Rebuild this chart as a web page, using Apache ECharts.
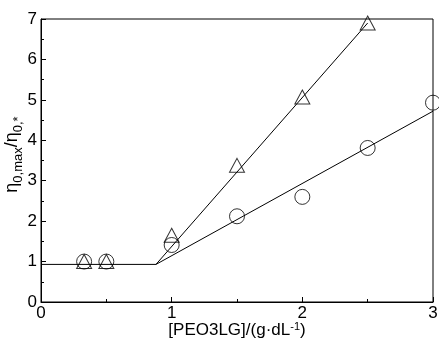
<!DOCTYPE html>
<html>
<head>
<meta charset="utf-8">
<script src="https://cdn.jsdelivr.net/npm/echarts@6/dist/echarts.min.js"></script>
<style>html,body{margin:0;padding:0;background:#fff}#c{width:439px;height:338px}</style>
</head>
<body>
<div id="c"></div>
<script>
// data
const triangleX = [0.33, 0.5, 1.0, 1.5, 2.0, 2.5];
const triangleY = [1.0, 1.0, 1.65, 3.38, 5.07, 6.9];
const circleX = [0.33, 0.5, 1.0, 1.5, 2.0, 2.5, 3.0];
const circleY = [1.0, 1.0, 1.41, 2.12, 2.6, 3.81, 4.93];
const flatLine = [[0, 0.93], [0.88, 0.93]];
const triangleFit = [[0.88, 0.93], [2.5, 6.9]];
const circleFit = [[0.88, 0.93], [3.0, 4.72]];
const xTicks = [0, 1, 2, 3];
const yTicks = [0, 1, 2, 3, 4, 5, 6, 7];

const FONT = "'Liberation Sans Narrow','Liberation Sans',Arial,sans-serif";
const zip = (xs, ys) => xs.map((x, i) => [x, ys[i]]);
const lineSeries = d => ({
  type: 'line', data: d, symbol: 'none', silent: true,
  lineStyle: { color: '#000', width: 1 }, z: 1
});

const chart = echarts.init(document.getElementById('c'), null, { renderer: 'canvas' });
chart.setOption({
  animation: false,
  backgroundColor: '#fff',
  grid: { left: 41, right: 6, top: 19, bottom: 36, show: true, borderColor: '#000', borderWidth: 1,
          containLabel: false, outerBoundsMode: 'none' },
  xAxis: {
    type: 'value', min: xTicks[0], max: xTicks[xTicks.length - 1], interval: 1,
    axisLine: { lineStyle: { color: '#000', width: 1 } },
    axisTick: { inside: true, length: 5, lineStyle: { color: '#000' } },
    minorTick: { show: true, splitNumber: 2, length: 3, lineStyle: { color: '#000' } },
    splitLine: { show: false },
    axisLabel: { color: '#000', fontSize: 17, fontFamily: FONT, margin: 3 },
    name: '{m|[PEO3LG]/(g·dL}{s|-1}{m|)}',
    nameLocation: 'middle', nameGap: 19, nameMoveOverlap: false,
    nameTextStyle: {
      rich: {
        m: { fontSize: 17, fontFamily: FONT, color: '#000', lineHeight: 18, verticalAlign: 'bottom' },
        s: { fontSize: 11, fontFamily: FONT, color: '#000', lineHeight: 18, verticalAlign: 'top' }
      }
    }
  },
  yAxis: {
    type: 'value', min: yTicks[0], max: yTicks[yTicks.length - 1], interval: 1,
    axisLine: { lineStyle: { color: '#000', width: 1 } },
    axisTick: { inside: true, length: 5, lineStyle: { color: '#000' } },
    minorTick: { show: true, splitNumber: 2, length: 3, lineStyle: { color: '#000' } },
    splitLine: { show: false },
    axisLabel: { color: '#000', fontSize: 17, fontFamily: FONT, margin: 4 },
    name: '{m|η}{s|0,max}{m|/η}{s|0,*}',
    nameLocation: 'middle', nameGap: 16, nameRotate: 90, nameMoveOverlap: false,
    nameTextStyle: {
      padding: [0, 0, 0, 12],
      rich: {
        m: { fontSize: 18, fontFamily: FONT, color: '#000', lineHeight: 22, verticalAlign: 'top' },
        s: { fontSize: 13, fontFamily: FONT, color: '#000', lineHeight: 22, verticalAlign: 'bottom' }
      }
    }
  },
  series: [
    lineSeries(flatLine),
    lineSeries(triangleFit),
    lineSeries(circleFit),
    {
      type: 'scatter', data: zip(triangleX, triangleY), symbol: 'triangle', symbolSize: [15, 14],
      itemStyle: { color: 'rgba(0,0,0,0)', borderColor: '#000', borderWidth: 1 }, z: 3
    },
    {
      type: 'scatter', data: zip(circleX, circleY), symbol: 'circle', symbolSize: 15,
      itemStyle: { color: 'rgba(0,0,0,0)', borderColor: '#000', borderWidth: 1 }, z: 3
    }
  ]
});
</script>
</body>
</html>
